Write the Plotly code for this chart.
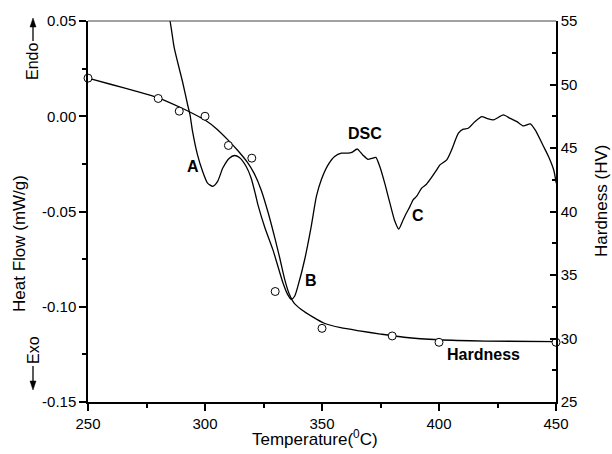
import plotly.graph_objects as go

# ---------------- data ----------------
# DSC curve (Temperature in C, Heat flow in mW/g)
dsc_T = [283.9, 285.0, 286.9, 290.4, 292.6, 293.6, 294.7, 296.8, 299.0, 301.1, 303.3,
         305.4, 307.6, 310.4, 312.6, 314.7, 317.6, 319.7, 321.6, 322.6, 325.6, 329.0,
         333.3, 335.3, 336.9, 338.3, 339.7, 342.6, 345.4, 347.6, 349.7, 352.6, 355.4,
         358.3, 361.1, 362.7, 365.1, 367.4, 369.6, 371.3, 373.0, 374.7, 376.8, 379.0,
         381.1, 382.8, 384.7, 386.1, 387.6, 389.0, 390.4, 392.6, 394.4, 396.1, 399.0,
         400.4, 403.3, 405.4, 408.3, 410.4, 412.5, 415.4, 418.3, 420.4, 423.3, 427.5,
         430.4, 433.3, 436.1, 439.0, 441.1, 444.7, 446.8, 449.0, 450.1]
dsc_HF = [0.0545, 0.0504, 0.0356, 0.0181, 0.0059, 0.0007, -0.0081, -0.0203, -0.0290, -0.0351, -0.0368,
          -0.0342, -0.0272, -0.0220, -0.0206, -0.0217, -0.0264, -0.0324, -0.0412, -0.0464, -0.0585, -0.0700,
          -0.0874, -0.0935, -0.0961, -0.0945, -0.0892, -0.0752, -0.0578, -0.0421, -0.0333, -0.0255, -0.0211,
          -0.0194, -0.0194, -0.0190, -0.0172, -0.0203, -0.0226, -0.0221, -0.0216, -0.0264, -0.0351, -0.0455,
          -0.0550, -0.0592, -0.0543, -0.0508, -0.0473, -0.0438, -0.0421, -0.0377, -0.0360, -0.0333, -0.0281,
          -0.0255, -0.0229, -0.0176, -0.0089, -0.0068, -0.0063, -0.0028, -0.0002, -0.0011, -0.0019, 0.0007,
          -0.0011, -0.0028, -0.0051, -0.0040, -0.0072, -0.0159, -0.0211, -0.0281, -0.0351]

# Hardness measurements
hard_T = [250, 280, 289, 300, 310, 320, 330, 350, 380, 400, 450]
hard_HV = [50.5, 48.9, 47.9, 47.5, 45.2, 44.2, 33.7, 30.8, 30.2, 29.7, 29.7]

# Hardness fitted curve
fit_T = [250, 260, 270, 280, 290, 295, 300, 305, 310, 314, 318, 321, 324, 327, 330, 332,
         334, 336, 338, 341, 346, 351, 358, 366, 375, 385, 400, 420, 450]
fit_HV = [50.5, 50.0, 49.5, 48.95, 48.15, 47.7, 47.2, 46.5, 45.6, 44.8, 43.9, 43.0, 41.7, 39.9,
          37.8, 36.3, 34.7, 33.5, 32.8, 32.3, 31.7, 31.2, 30.85, 30.6, 30.35, 30.1, 29.9, 29.8, 29.75]

x_ticks = [250, 300, 350, 400, 450]
x_ticklabels = ["250", "300", "350", "400", "450"]
y_ticks = [-0.15, -0.10, -0.05, 0.00, 0.05]
y_ticklabels = ["-0.15", "-0.10", "-0.05", "0.00", "0.05"]
y2_ticks = [25, 30, 35, 40, 45, 50, 55]
y2_ticklabels = ["25", "30", "35", "40", "45", "50", "55"]

# ---------------- figure ----------------
FONT = "Liberation Sans, Arial, sans-serif"
L, R, T, B = 88, 56, 21, 52
W, H = 612, 454
PW, PH = W - L - R, H - T - B


def px(xp):
    return (xp - L) / PW


def py(yp):
    return (H - B - yp) / PH


fig = go.Figure()
fig.add_trace(go.Scatter(x=dsc_T, y=dsc_HF, mode="lines", line=dict(color="black", width=1.3, shape="spline", smoothing=0.6),
                         showlegend=False))
fig.add_trace(go.Scatter(x=fit_T, y=fit_HV, mode="lines", yaxis="y2",
                         line=dict(color="black", width=1.3, shape="spline", smoothing=0.6), showlegend=False))
fig.add_trace(go.Scatter(x=hard_T, y=hard_HV, mode="markers", yaxis="y2", cliponaxis=False,
                         marker=dict(symbol="circle", size=8, color="white", line=dict(color="black", width=1)),
                         showlegend=False))

axis_common = dict(showgrid=False, zeroline=False, showline=True, linecolor="black", linewidth=1.5,
                   tickcolor="black", tickwidth=1.5, tickfont=dict(family=FONT, size=15, color="black"))


def arrow_shapes(xc, y_tail, y_tip):
    d = 1 if y_tip < y_tail else -1
    base = y_tip + d * 9
    return [
        dict(type="line", xref="paper", yref="paper", x0=px(xc), x1=px(xc), y0=py(y_tail), y1=py(base),
             line=dict(color="black", width=1.3)),
        dict(type="path", xref="paper", yref="paper", fillcolor="black", line=dict(color="black", width=0.5),
             path=f"M {px(xc - 3)},{py(base)} L {px(xc + 3)},{py(base)} L {px(xc)},{py(y_tip)} Z"),
    ]


shapes = [dict(type="line", xref="paper", yref="paper", x0=0, x1=1, y0=1, y1=1,
               line=dict(color="#444", width=1))]
shapes += arrow_shapes(33, 41, 18)
shapes += arrow_shapes(33, 366, 390)

fig.update_layout(
    width=W, height=H, margin=dict(l=L, r=R, t=T, b=B),
    paper_bgcolor="white", plot_bgcolor="white",
    xaxis=dict(range=[250, 450], tickmode="array", tickvals=x_ticks, ticktext=x_ticklabels,
               ticks="outside", ticklen=7,
               minor=dict(tickmode="array", tickvals=[275, 325, 375, 425], ticks="outside", ticklen=4,
                          tickcolor="black", tickwidth=1.5),
               **axis_common),
    yaxis=dict(range=[-0.15, 0.05], tickmode="array", tickvals=y_ticks, ticktext=y_ticklabels,
               ticks="outside", ticklen=7,
               minor=dict(tickmode="array", tickvals=[-0.125, -0.075, -0.025, 0.025], ticks="outside", ticklen=4,
                          tickcolor="black", tickwidth=1.5),
               **axis_common),
    yaxis2=dict(range=[25, 55], overlaying="y", side="right", tickmode="array", tickvals=y2_ticks,
                ticktext=y2_ticklabels, ticks="inside", ticklen=6,
                minor=dict(tickmode="array", tickvals=[27.5, 32.5, 37.5, 42.5, 47.5, 52.5], ticks="inside",
                           ticklen=4, tickcolor="black", tickwidth=1.5),
                **axis_common),
    shapes=shapes,
)

lab = dict(family=FONT, size=16, color="black")
bold = dict(family=FONT, size=16, color="black", weight="bold")
C = dict(xanchor="center", yanchor="middle", showarrow=False)
ann = []
# axis titles
ann.append(dict(text="Temperature(<sup>0</sup>C)", x=px(315), y=py(438), xref="paper", yref="paper",
                font=dict(family=FONT, size=17, color="black"), **C))
ann.append(dict(text="Heat Flow (mW/g)", x=px(20), y=py(244), xref="paper", yref="paper", textangle=-90,
                font=dict(family=FONT, size=17, color="black"), **C))
ann.append(dict(text="Hardness (HV)", x=px(601), y=py(201), xref="paper", yref="paper", textangle=-90,
                font=dict(family=FONT, size=17, color="black"), **C))
# Endo / Exo
ann.append(dict(text="Endo", x=px(33), y=py(62), xref="paper", yref="paper", textangle=-90,
                font=lab, **C))
ann.append(dict(text="Exo", x=px(33), y=py(350), xref="paper", yref="paper", textangle=-90,
                font=lab, **C))
# curve labels
ann.append(dict(text="A", x=294.8, y=-0.0265, xref="x", yref="y", font=bold, **C))
ann.append(dict(text="B", x=345.1, y=-0.0864, xref="x", yref="y", font=bold, **C))
ann.append(dict(text="C", x=391.0, y=-0.0522, xref="x", yref="y", font=bold, **C))
ann.append(dict(text="DSC", x=368.4, y=-0.0088, xref="x", yref="y", font=bold, **C))
ann.append(dict(text="Hardness", x=419.0, y=-0.1249, xref="x", yref="y", font=bold, **C))
fig.update_layout(annotations=ann)

fig.write_html("out.html", config={"displayModeBar": False},
               post_script="document.body.style.margin='0';document.body.style.padding='0';")
